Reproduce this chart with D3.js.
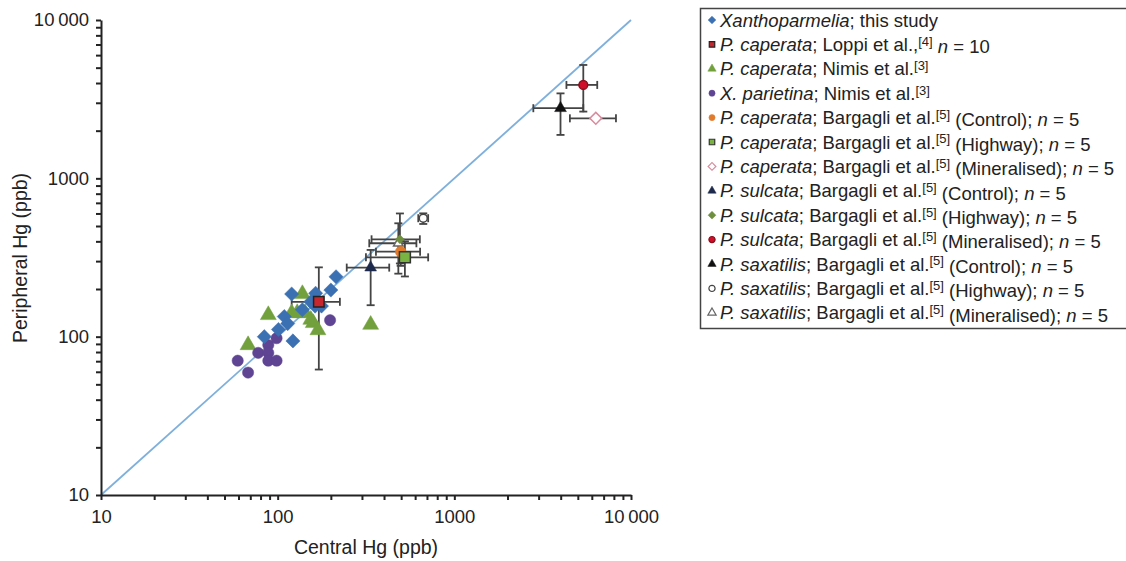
<!DOCTYPE html>
<html>
<head>
<meta charset="utf-8">
<script src="https://cdn.jsdelivr.net/npm/d3@7"></script>
<style>
  body { margin: 0; background: #fff; }
  svg { font-family: "Liberation Sans", Arial, sans-serif; }
</style>
</head>
<body>
<script>
// values: [central, peripheral]
var xanthoparmelia = [[214, 239], [200, 197], [120, 186], [164, 188], [154, 166], [163, 156], [177, 156],
                      [138, 148], [109, 134], [114, 121], [101, 111], [84, 100], [122, 94]];
var caperataNimis = [[138, 186], [88.5, 137], [120, 141], [129, 141], [143, 141], [154, 128], [159, 122],
                     [169, 110], [68, 88.5], [336, 119]];
var parietinaNimis = [[59.4, 70.5], [68, 59.3], [77.6, 79], [88.5, 88.5], [98.6, 97.8], [88.5, 79],
                      [88.5, 70.5], [98.6, 70.5], [198, 127]];
// means with error ranges: x, y, xlo, xhi, ylo, yhi
var caperataLoppi = [[171, 166, 120, 225, 62, 274]];
var caperataControl = [[497, 344, 360, 640, 280, 410]];
var caperataHighway = [[525, 317, 316, 711, 240, 400]];
var caperataMineral = [[6320, 2393, 4508, 8221, 2393, 2393]];
var sulcataControl = [[336, 273, 246, 428, 158, 353]];
var sulcataHighway = [[492, 412, 340, 638, 290, 600]];
var sulcataMineral = [[5370, 3890, 4310, 6440, 2640, 5200]];
var saxatilisControl = [[3990, 2773, 2800, 5370, 1880, 3440]];
var saxatilisHighway = [[667, 560, 625, 711, 515, 601]];
var saxatilisMineral = [[482, 389, 330, 610, 250, 520]];

var xTickLabels = ["10", "100", "1000", "10\u2009000"];
var yTickLabels = ["10", "100", "1000", "10\u2009000"];

var width = 1126,
    height = 561,
    plotLeft = 101, plotRight = 631,
    plotTop = 20, plotBottom = 495;

var svg = d3.select("body").append("svg")
            .attr("width", width)
            .attr("height", height);

var x = d3.scaleLog().domain([10, 10000]).range([plotLeft, plotRight]);
var y = d3.scaleLog().domain([10, 10000]).range([plotBottom, plotTop]);

var minorTicks = [];
[10, 100, 1000].forEach(function(d) {
    for (var i = 1; i < 10; i += 1) { minorTicks.push(d * i); }
});
minorTicks.push(10000);

var majors = [10, 100, 1000, 10000];

// diagonal 1:1 line
svg.append("line")
   .attr("x1", x(10)).attr("y1", y(10))
   .attr("x2", x(10000)).attr("y2", y(10000))
   .style("stroke", "#7fb0dc")
   .style("stroke-width", 1.8);

var xAxis = svg.append("g")
   .attr("transform", "translate(0," + plotBottom + ")")
   .call(d3.axisBottom(x).tickValues(minorTicks).tickSize(5).tickSizeOuter(0)
          .tickFormat(function(d) { var k = majors.indexOf(d); return k >= 0 ? xTickLabels[k] : ""; }));

var yAxis = svg.append("g")
   .attr("transform", "translate(" + plotLeft + ",0)")
   .call(d3.axisLeft(y).tickValues(minorTicks).tickSize(5).tickSizeOuter(0)
          .tickFormat(function(d) { var k = majors.indexOf(d); return k >= 0 ? yTickLabels[k] : ""; }));

[xAxis, yAxis].forEach(function(a) {
    a.select(".domain").style("stroke", "#222").style("stroke-width", 2);
    a.selectAll(".tick line").style("stroke", "#222").style("stroke-width", 2);
    a.selectAll(".tick text").style("font-size", "18.5px").style("fill", "#222")
     .style("font-family", "'Liberation Sans', Arial, sans-serif");
});
xAxis.selectAll(".tick text").attr("y", 15).attr("dy", "0.71em");
yAxis.selectAll(".tick text").attr("x", -12);

svg.append("text")
   .attr("x", 366).attr("y", 554)
   .attr("text-anchor", "middle")
   .style("font-size", "19.5px").style("fill", "#222")
   .text("Central Hg (ppb)");

svg.append("text")
   .attr("transform", "translate(27,258) rotate(-90)")
   .attr("text-anchor", "middle")
   .style("font-size", "19.5px").style("fill", "#222")
   .text("Peripheral Hg (ppb)");

// series styles
var series = [
    {data: xanthoparmelia, sym: "diamond", size: 100, fill: "#3b70b3", stroke: "#3b70b3",
     sp: "Xanthoparmelia", ref: "; this study", sup: "", tail: ""},
    {data: caperataLoppi, sym: "square", size: 110, fill: "#c8262e", stroke: "#222",
     sp: "P. caperata", ref: "; Loppi et al.,", sup: "[4]", tail: " n = 10", err: true},
    {data: caperataNimis, sym: "triangle", size: 110, fill: "#72a03c", stroke: "#72a03c",
     sp: "P. caperata", ref: "; Nimis et al.", sup: "[3]", tail: ""},
    {data: parietinaNimis, sym: "circle", size: 100, fill: "#5e4492", stroke: "#5e4492",
     sp: "X. parietina", ref: "; Nimis et al.", sup: "[3]", tail: ""},
    {data: caperataControl, sym: "circle", size: 90, fill: "#e27b2c", stroke: "#e27b2c",
     sp: "P. caperata", ref: "; Bargagli et al.", sup: "[5]", tail: " (Control); n = 5", err: true},
    {data: caperataHighway, sym: "square", size: 120, fill: "#7bb343", stroke: "#333",
     sp: "P. caperata", ref: "; Bargagli et al.", sup: "[5]", tail: " (Highway); n = 5", err: true},
    {data: caperataMineral, sym: "diamond", size: 70, fill: "#fff", stroke: "#d98a9b",
     sp: "P. caperata", ref: "; Bargagli et al.", sup: "[5]", tail: " (Mineralised); n = 5", err: true},
    {data: sulcataControl, sym: "triangle", size: 60, fill: "#1e2a4c", stroke: "#1e2a4c",
     sp: "P. sulcata", ref: "; Bargagli et al.", sup: "[5]", tail: " (Control); n = 5", err: true},
    {data: sulcataHighway, sym: "diamond", size: 40, fill: "#6e8f3d", stroke: "#6e8f3d",
     sp: "P. sulcata", ref: "; Bargagli et al.", sup: "[5]", tail: " (Highway); n = 5", err: true},
    {data: sulcataMineral, sym: "circle", size: 60, fill: "#d0102a", stroke: "#8a0f1c",
     sp: "P. sulcata", ref: "; Bargagli et al.", sup: "[5]", tail: " (Mineralised); n = 5", err: true},
    {data: saxatilisControl, sym: "triangle", size: 60, fill: "#111", stroke: "#111",
     sp: "P. saxatilis", ref: "; Bargagli et al.", sup: "[5]", tail: " (Control); n = 5", err: true},
    {data: saxatilisHighway, sym: "circle", size: 50, fill: "#fff", stroke: "#444",
     sp: "P. saxatilis", ref: "; Bargagli et al.", sup: "[5]", tail: " (Highway); n = 5", err: true},
    {data: saxatilisMineral, sym: "triangle", size: 40, fill: "#fff", stroke: "#666",
     sp: "P. saxatilis", ref: "; Bargagli et al.", sup: "[5]", tail: " (Mineralised); n = 5", err: true}
];

var symbolTypes = {diamond: d3.symbolSquare, square: d3.symbolSquare,
                   triangle: d3.symbolTriangle, circle: d3.symbolCircle};

function symbolPath(s, scale) {
    return d3.symbol().type(symbolTypes[s.sym]).size(s.size * (scale || 1))();
}
function rot(s) { return s.sym === "diamond" ? " rotate(45)" : ""; }

// error bars first (drawn beneath markers)
var errG = svg.append("g").attr("class", "errorBars");
series.forEach(function(s) {
    if (!s.err) { return; }
    s.data.forEach(function(d) {
        var cap = 4;
        if (d[2] !== d[3]) {
            errG.append("line").attr("x1", x(d[2])).attr("x2", x(d[3])).attr("y1", y(d[1])).attr("y2", y(d[1]));
            errG.append("line").attr("x1", x(d[2])).attr("x2", x(d[2])).attr("y1", y(d[1]) - cap).attr("y2", y(d[1]) + cap);
            errG.append("line").attr("x1", x(d[3])).attr("x2", x(d[3])).attr("y1", y(d[1]) - cap).attr("y2", y(d[1]) + cap);
        }
        if (d[4] !== d[5]) {
            errG.append("line").attr("x1", x(d[0])).attr("x2", x(d[0])).attr("y1", y(d[4])).attr("y2", y(d[5]));
            errG.append("line").attr("x1", x(d[0]) - cap).attr("x2", x(d[0]) + cap).attr("y1", y(d[4])).attr("y2", y(d[4]));
            errG.append("line").attr("x1", x(d[0]) - cap).attr("x2", x(d[0]) + cap).attr("y1", y(d[5])).attr("y2", y(d[5]));
        }
    });
});
errG.selectAll("line").style("stroke", "#444").style("stroke-width", 1.8);

// markers; order picked so the small markers stay visible
var order = [2, 3, 0, 12, 7, 10, 4, 5, 8, 11, 6, 9, 1];
order.forEach(function(i) {
    var s = series[i];
    svg.append("g").selectAll("path")
       .data(s.data)
       .enter().append("path")
       .attr("transform", function(d) { return "translate(" + x(d[0]) + "," + y(d[1]) + ")" + rot(s); })
       .attr("d", symbolPath(s))
       .style("fill", s.fill)
       .style("stroke", s.stroke)
       .style("stroke-width", s.stroke === s.fill ? 0.5 : 1.5);
});

// legend
var legend = svg.append("g").attr("class", "legend");
legend.append("rect")
      .attr("x", 700.5).attr("y", 8.5)
      .attr("width", 440).attr("height", 320)
      .style("fill", "none").style("stroke", "#444").style("stroke-width", 1.5);

var rowGap = 24.4;
var rows = legend.selectAll(".legendRow")
      .data(series)
      .enter().append("g")
      .attr("class", "legendRow")
      .attr("transform", function(d, i) { return "translate(712," + (20 + i * rowGap) + ")"; });

rows.append("path")
    .attr("transform", function(d) { return d.sym === "diamond" ? "rotate(45)" : null; })
    .attr("d", function(d) { return d3.symbol().type(symbolTypes[d.sym]).size(30)(); })
    .style("fill", function(d) { return d.fill; })
    .style("stroke", function(d) { return d.stroke; })
    .style("stroke-width", function(d) { return d.fill === d.stroke ? 0.5 : 1.2; });

var txt = rows.append("text")
    .attr("x", 8).attr("dy", "0.36em")
    .style("font-size", "18.5px").style("fill", "#222");
txt.append("tspan").style("font-style", "italic").text(function(d) { return d.sp; });
txt.append("tspan").text(function(d) { return d.ref; });
txt.append("tspan").attr("dy", "-0.4em").style("font-size", "13px").text(function(d) { return d.sup; });
txt.each(function(d) {
    var t = d3.select(this);
    if (!d.tail) { return; }
    var m = d.tail.match(/^(.*?)n = (\d+)$/);
    t.append("tspan").attr("dy", d.sup ? "0.4em" : null).text(m[1]);
    t.append("tspan").style("font-style", "italic").text("n");
    t.append("tspan").text(" = " + m[2]);
});
</script>
</body>
</html>
